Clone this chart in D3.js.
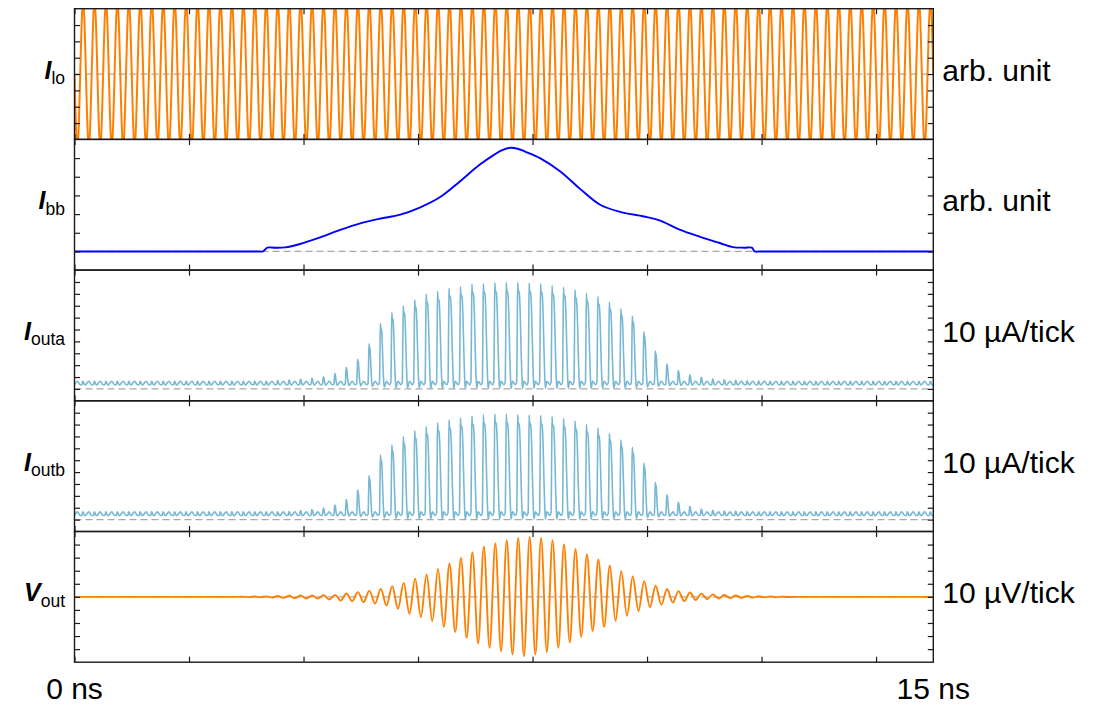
<!DOCTYPE html>
<html>
<head>
<meta charset="utf-8">
<script src="https://cdn.jsdelivr.net/npm/d3@7"></script>
<style>
  body { margin: 0; background: #fff; }
  text { font-family: "Liberation Sans", Arial, Helvetica, sans-serif; fill: #000; }
</style>
</head>
<body>
<script>
// ---- data ----
const timeTicks = [0, 2, 4, 6, 8, 10, 12, 14];          // ns
const timeLabels = [{ t: 0, text: "0 ns" }, { t: 15, text: "15 ns" }];

// LO: 5 GHz carrier, first maximum at 0.15 ns (amplitude a bit over the frame, so it is clipped)
const loPeriod = 0.2, loFirstMax = 0.15;
const loPeaks = [
  4.5, 4.5, 4.5, 4.5, 4.5, 4.5, 4.5, 4.5, 4.5, 4.5, 4.5, 4.5, 4.5, 4.5, 4.5,
  4.5, 4.5, 4.5, 4.5, 4.5, 4.5, 4.5, 4.5, 4.5, 4.5, 4.5, 4.5, 4.5, 4.5, 4.5,
  4.5, 4.5, 4.5, 4.5, 4.5, 4.5, 4.5, 4.5, 4.5, 4.5, 4.5, 4.5, 4.5, 4.5, 4.5,
  4.5, 4.5, 4.5, 4.5, 4.5, 4.5, 4.5, 4.5, 4.5, 4.5, 4.5, 4.5, 4.5, 4.5, 4.5,
  4.5, 4.5, 4.5, 4.5, 4.5, 4.5, 4.5, 4.5, 4.5, 4.5, 4.5, 4.5, 4.5, 4.5, 4.5
];

// baseband envelope (arb. unit, one unit per tick)
const bbTimes = [0, 1, 2, 3, 3.2, 3.29, 3.37, 3.5, 3.68, 3.94, 4.29, 4.64, 4.99, 5.33, 5.69, 6.03, 6.38, 6.73, 7.08,
                 7.34, 7.47, 7.61, 7.74, 7.87, 8.13, 8.48, 8.83, 9.18, 9.53, 10.0, 10.23, 10.58, 10.93, 11.27, 11.5,
                 11.7, 11.83, 11.88, 11.97, 12.5, 13.5, 14.5, 15];
const bbValues = [0, 0, 0, 0, 0, 0, 0.2, 0.2, 0.22, 0.4, 0.75, 1.15, 1.5, 1.75, 1.97, 2.35, 2.9, 3.75, 4.65,
                  5.2, 5.42, 5.55, 5.5, 5.35, 5.0, 4.3, 3.35, 2.5, 2.12, 1.84, 1.65, 1.15, 0.78, 0.45, 0.23,
                  0.2, 0.2, 0, 0, 0, 0, 0, 0];

// output currents: top of the pulse in each LO cycle (uA)
const rippleHigh = 6.5, rippleLow = 3.5;
const outaPeaks = [
  6.5, 6.5, 6.5, 6.5, 6.5, 6.5, 6.5, 6.5, 6.5, 6.5, 6.5, 6.5, 6.5, 6.5, 6.5, 6.5, 6.5,
  7.0, 7.5, 8.2, 9.0, 10.3, 13, 18, 25, 38, 55, 64, 70, 75, 79.6, 82, 84.6, 86, 88, 88.5,
  89.3, 89.6, 89.6, 89, 88.5, 86.8, 85.5, 83.2, 80.4, 77.6, 72.9, 67.5, 61.3, 48.2, 31.9,
  21, 15.4, 11.8, 9.8, 8.4, 7.6, 7.2, 6.8, 6.6,
  6.5, 6.5, 6.5, 6.5, 6.5, 6.5, 6.5, 6.5, 6.5, 6.5, 6.5, 6.5, 6.5, 6.5, 6.5
];
const outbPeaks = [
  6.5, 6.5, 6.5, 6.5, 6.5, 6.5, 6.5, 6.5, 6.5, 6.5, 6.5, 6.5, 6.5, 6.5, 6.5, 6.5, 6.5,
  6.6, 6.7, 7.6, 8.4, 9.8, 12.3, 16.8, 25, 37, 54.4, 62.8, 69.7, 74.8, 78.2, 81.5, 83.8, 85.5, 87.1, 88,
  88.8, 88.8, 88.2, 88, 87.5, 86.5, 85, 83, 80, 77, 72.5, 67, 60.8, 47.7, 31.4,
  20.8, 14.6, 11.2, 9, 7.8, 7.3, 7.0, 6.7, 6.6,
  6.5, 6.5, 6.5, 6.5, 6.5, 6.5, 6.5, 6.5, 6.5, 6.5, 6.5, 6.5, 6.5, 6.5, 6.5
];
// shape of one pulse: time from the cycle centre (ns) for a narrow and a wide pulse, fraction of height
const pulseNarrow = [-0.02, -0.01, -0.004, 0.0, 0.004, 0.008, 0.016, 0.028];
const pulseWide   = [-0.026, -0.016, -0.009, -0.002, 0.018, 0.034, 0.05, 0.066];
const pulseFrac   = [0.03, 0.6, 1.0, 0.93, 0.9, 0.72, 0.35, 0.05];

// output voltage: maxima and following minima per LO cycle, from cycle 14 on (uV)
const voutFirstCycle = 14;
const voutPeaks = [0.2, 0.3, 0.4, 0.6, 0.8, 1.0, 1.0, 1.3, 1.5, 2.6, 3.6, 4.8, 6.1, 8.2, 10.7, 13.8,
  17.1, 21.4, 25.5, 29.8, 34.2, 38.3, 40.8, 43.4, 45.1, 45.9, 45.1, 43.4, 40.0, 36.7, 32.4, 28.6,
  24.0, 19.6, 15.6, 12.0, 8.5, 6.0, 4.4, 3.3, 2.5, 1.9, 1.4, 1.0, 0.7, 0.5, 0.35, 0.2];
const voutTroughs = [0.2, 0.3, 0.5, 0.7, 1.0, 1.3, 1.3, 2.0, 2.8, 3.3, 4.1, 5.1, 6.6, 9.2, 13.0, 15.5,
  18.6, 23.0, 27.0, 31.4, 35.7, 39.0, 41.6, 44.1, 45.4, 44.1, 42.3, 39.0, 34.7, 30.6, 26.3, 23.0,
  18.5, 14.5, 10.8, 8.0, 6.0, 4.4, 3.2, 2.4, 1.8, 1.3, 1.0, 0.7, 0.5, 0.35, 0.25, 0.15];

// ---- layout ----
const margin = { top: 8.7, left: 74.5 },
      width = 858.8,
      panelHeight = 130.7;

const x = d3.scaleLinear().domain([0, 15]).range([0, width]);

const svg = d3.select("body").append("svg")
  .attr("width", 1104)
  .attr("height", 704)
  .append("g")
  .attr("transform", `translate(${margin.left},${margin.top})`);

// ---- point lists ----
function loPoints() {
  const pts = [[0, 0]];
  loPeaks.forEach((a, k) => {
    const tc = loFirstMax + k * loPeriod;
    pts.push([tc - loPeriod / 2, -a]);
    pts.push([tc, a]);
  });
  pts.push([15, 0]);
  return pts;
}

function bbPoints() {
  return bbTimes.map((t, i) => [t, bbValues[i]]);
}

function pulsePoints(peaks) {
  const pts = [[0, rippleLow], [loFirstMax - loPeriod / 2, rippleHigh]];
  peaks.forEach((h, k) => {
    const tc = loFirstMax + k * loPeriod;
    const a = h - rippleLow;
    const s = Math.max(0, Math.min(1, (h - rippleHigh) / 80));
    pts.push([tc - loPeriod / 4, rippleLow]);
    pulseFrac.forEach((f, j) => {
      const dt = pulseNarrow[j] + s * (pulseWide[j] - pulseNarrow[j]);
      pts.push([tc + dt, rippleLow + f * a]);
    });
    const last = pulseNarrow[7] + s * (pulseWide[7] - pulseNarrow[7]);
    pts.push([tc + last + 0.009, rippleLow - Math.min(3, 0.04 * a)]);
    pts.push([tc + loPeriod / 2, rippleHigh]);
  });
  return pts;
}

function voutPoints() {
  const t0 = loFirstMax + voutFirstCycle * loPeriod;
  const pts = [[0, 0], [t0 - loPeriod / 2, 0]];
  voutPeaks.forEach((p, k) => {
    const tc = t0 + k * loPeriod;
    pts.push([tc, p]);
    pts.push([tc + loPeriod / 2, -voutTroughs[k]]);
  });
  pts.push([t0 + voutPeaks.length * loPeriod, 0]);
  pts.push([15, 0]);
  return pts;
}

const panels = [
  { sym: "I", sub: "lo",   unit: "arb. unit",  domain: [-4, 4],    step: 1,  color: "#ff8000", lw: 2.0, curve: d3.curveMonotoneX, points: loPoints() },
  { sym: "I", sub: "bb",   unit: "arb. unit",  domain: [-1, 6],    step: 1,  color: "#0000ff", lw: 1.9, curve: d3.curveCatmullRom.alpha(0.5), points: bbPoints() },
  { sym: "I", sub: "outa", unit: "10 µA/tick", domain: [-10, 100], step: 10, color: "#78b8d4", lw: 1.6, curve: d3.curveMonotoneX, points: pulsePoints(outaPeaks) },
  { sym: "I", sub: "outb", unit: "10 µA/tick", domain: [-10, 100], step: 10, color: "#78b8d4", lw: 1.6, curve: d3.curveMonotoneX, points: pulsePoints(outbPeaks) },
  { sym: "V", sub: "out",  unit: "10 µV/tick", domain: [-50, 50],  step: 10, color: "#ff8000", lw: 1.9, curve: d3.curveMonotoneX, points: voutPoints() }
];

panels.forEach((p, i) => {
  const g = svg.append("g").attr("transform", `translate(0,${i * panelHeight})`);
  const y = d3.scaleLinear().domain(p.domain).range([panelHeight, 0]);

  g.append("clipPath").attr("id", "clip" + i)
    .append("rect").attr("width", width).attr("height", panelHeight);

  // dashed zero line
  g.append("line")
    .attr("x1", 0).attr("x2", width)
    .attr("y1", y(0)).attr("y2", y(0))
    .attr("stroke", "#a8a8a8")
    .attr("stroke-width", 1.2)
    .attr("stroke-dasharray", "7,4");

  const line = d3.line()
    .x(d => x(d[0]))
    .y(d => y(d[1]))
    .curve(p.curve);

  g.append("path")
    .datum(p.points)
    .attr("clip-path", `url(#clip${i})`)
    .attr("fill", "none")
    .attr("stroke", p.color)
    .attr("stroke-width", p.lw)
    .attr("stroke-linejoin", "round")
    .attr("d", line);

  // inward ticks on all four sides
  const yTicks = d3.range(p.domain[0] + p.step, p.domain[1] - p.step / 2, p.step);
  const axes = [
    { t: "", a: d3.axisBottom(x).tickValues(timeTicks) },
    { t: `translate(0,${panelHeight})`, a: d3.axisTop(x).tickValues(timeTicks) },
    { t: "", a: d3.axisRight(y).tickValues(yTicks) },
    { t: `translate(${width},0)`, a: d3.axisLeft(y).tickValues(yTicks) }
  ];
  axes.forEach(ax => {
    const ag = g.append("g")
      .attr("transform", ax.t)
      .style("color", "#1a1a1a")
      .call(ax.a.tickSize(5.5).tickSizeOuter(0).tickFormat(""));
    ag.select(".domain").remove();
    ag.selectAll(".tick line").attr("stroke-width", 1.2);
  });

  g.append("rect")
    .attr("width", width)
    .attr("height", panelHeight)
    .attr("fill", "none")
    .attr("stroke", "#1a1a1a")
    .attr("stroke-width", 1.4);

  // left label with subscript
  const lab = g.append("text")
    .attr("x", -9.5)
    .attr("y", panelHeight / 2 + 4.5)
    .attr("text-anchor", "end");
  lab.append("tspan").style("font-style", "italic").style("font-weight", "bold").style("font-size", "25px").text(p.sym);
  lab.append("tspan").attr("dy", 5.5).style("font-size", "17.5px").text(p.sub);

  // unit on the right
  g.append("text")
    .attr("x", width + 9)
    .attr("y", panelHeight / 2 + 6.5)
    .style("font-size", "30px")
    .text(p.unit);
});

svg.selectAll(".time-label")
  .data(timeLabels)
  .enter().append("text")
  .attr("class", "time-label")
  .attr("x", d => x(d.t))
  .attr("y", 690.3)
  .attr("text-anchor", "middle")
  .style("font-size", "30px")
  .text(d => d.text);
</script>
</body>
</html>
